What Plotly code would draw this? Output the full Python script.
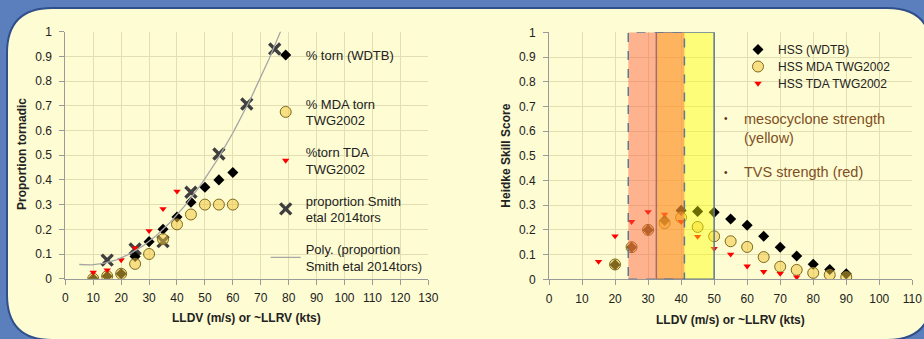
import numpy as np
import plotly.graph_objects as go

# ---------------- data ----------------
# Left chart: proportion tornadic vs LLDV
left_x = [10, 15, 20, 25, 30, 35, 40, 45, 50, 55, 60]
torn_wdtb = [0.0, 0.01, 0.02, 0.09, 0.15, 0.20, 0.25, 0.31, 0.37, 0.40, 0.43]
mda_torn = [0.0, 0.01, 0.02, 0.06, 0.10, 0.16, 0.22, 0.26, 0.30, 0.30, 0.30]
tda_x = [10, 15, 20, 25, 30, 35, 40]
tda_torn = [0.026, 0.035, 0.076, 0.124, 0.194, 0.283, 0.354]
smith_x = [15, 25, 35, 45, 55, 65, 75]
smith_prop = [0.075, 0.12, 0.15, 0.35, 0.505, 0.707, 0.93]

# Right chart: Heidke skill score vs LLDV
hss_x = [20, 25, 30, 35, 40, 45, 50, 55, 60, 65, 70, 75, 80, 85, 90]
hss_wdtb = [0.059, 0.13, 0.20, 0.238, 0.279, 0.275, 0.271, 0.244, 0.219, 0.174,
            0.13, 0.094, 0.061, 0.04, 0.022]
hss_mda = [0.06, 0.13, 0.20, 0.227, 0.25, 0.212, 0.174, 0.154, 0.131, 0.09,
           0.051, 0.038, 0.026, 0.018, 0.009]
hss_tda_x = [15, 20, 25, 30, 35, 40, 45, 50, 55, 60, 65, 70, 75]
hss_tda = [0.072, 0.175, 0.233, 0.273, 0.263, 0.233, 0.173, 0.124, 0.101,
           0.053, 0.031, 0.023, 0.009]

# strength ranges (LLDV)
tvs_range = [24, 41]      # red
meso_range = [32.5, 50]   # yellow

left_xticks = list(range(0, 131, 10))
right_xticks = list(range(0, 111, 10))
yticks = [0, 0.1, 0.2, 0.3, 0.4, 0.5, 0.6, 0.7, 0.8, 0.9, 1]
ytick_text = ["0", "0.1", "0.2", "0.3", "0.4", "0.5", "0.6", "0.7", "0.8", "0.9", "1"]

# polynomial (order 2) trendline of the Smith et al. data
coef = np.polyfit(smith_x, smith_prop, 2)
poly_x = np.linspace(5, 80, 151)
poly_y = np.polyval(coef, poly_x)

# ---------------- style ----------------
W, H = 924, 339
FONT = "Liberation Sans"
BG_BLUE = "#5b7fbd"
PANEL = "#fefcd2"
GRID = "#e2deb2"
AXIS = "#9a9a9a"
TXT = "#222222"
CIRCLE_FILL = "rgba(240,195,60,0.52)"
CIRCLE_LINE = "#7f6a1e"


def px(x):
    return x / W


def py(y):
    return 1 - y / H


fig = go.Figure()

# left traces
fig.add_trace(go.Scatter(
    x=smith_x, y=smith_prop, mode="markers", name="proportion Smith<br>etal 2014tors",
    marker=dict(symbol="x-thin", size=11, line=dict(width=3.4, color="#3f3f3f"), color="#3f3f3f"),
    xaxis="x", yaxis="y", legend="legend4"))
fig.add_trace(go.Scatter(
    x=left_x, y=torn_wdtb, mode="markers", name="% torn (WDTB)",
    marker=dict(symbol="diamond", size=8.5, color="#000000"),
    xaxis="x", yaxis="y", legend="legend"))
fig.add_trace(go.Scatter(
    x=left_x, y=mda_torn, mode="markers", name="% MDA torn<br>TWG2002",
    marker=dict(symbol="circle", size=11, color=CIRCLE_FILL, line=dict(width=1, color=CIRCLE_LINE)),
    xaxis="x", yaxis="y", legend="legend2"))
fig.add_trace(go.Scatter(
    x=tda_x, y=tda_torn, mode="markers", name="%torn TDA<br>TWG2002",
    marker=dict(symbol="triangle-down", size=6.5, color="#ff0000"),
    xaxis="x", yaxis="y", legend="legend3"))
fig.add_trace(go.Scatter(
    x=poly_x, y=poly_y, mode="lines", name="Poly. (proportion<br>Smith etal 2014tors)",
    line=dict(color="#a6a6a6", width=1.3),
    xaxis="x", yaxis="y", legend="legend5"))

# right traces
fig.add_trace(go.Scatter(
    x=hss_x, y=hss_wdtb, mode="markers", name="HSS (WDTB)",
    marker=dict(symbol="diamond", size=8.5, color="#000000"),
    xaxis="x2", yaxis="y2", legend="legend6"))
fig.add_trace(go.Scatter(
    x=hss_x, y=hss_mda, mode="markers", name="HSS MDA TWG2002",
    marker=dict(symbol="circle", size=11, color=CIRCLE_FILL, line=dict(width=1, color=CIRCLE_LINE)),
    xaxis="x2", yaxis="y2", legend="legend7"))
fig.add_trace(go.Scatter(
    x=hss_tda_x, y=hss_tda, mode="markers", name="HSS TDA TWG2002",
    marker=dict(symbol="triangle-down", size=6.5, color="#ff0000"),
    xaxis="x2", yaxis="y2", legend="legend8"))

# ---------------- axes ----------------
axis_common = dict(
    showgrid=True, gridcolor=GRID, gridwidth=1, showline=True, linecolor=AXIS, linewidth=1,
    ticks="outside", ticklen=5, tickcolor=AXIS, tickwidth=1, zeroline=False, automargin=False,
    tickfont=dict(family=FONT, size=12, color=TXT), fixedrange=True,
)

L_dom_x = [px(65.3), px(428.3)]
L_dom_y = [py(278.7), py(31.7)]
R_dom_x = [px(549), px(912.3)]
R_dom_y = [py(279.3), py(32.3)]

fig.update_layout(
    xaxis=dict(domain=L_dom_x, range=[0, 130], tickvals=left_xticks, anchor="y",
               ticklabelstandoff=3, **axis_common),
    yaxis=dict(domain=L_dom_y, range=[0, 1], tickvals=yticks, ticktext=ytick_text, anchor="x",
               ticklabelstandoff=5, **axis_common),
    xaxis2=dict(domain=R_dom_x, range=[0, 110], tickvals=right_xticks, anchor="y2",
                ticklabelstandoff=3, **axis_common),
    yaxis2=dict(domain=R_dom_y, range=[0, 1], tickvals=yticks, ticktext=ytick_text, anchor="x2",
                ticklabelstandoff=5, **axis_common),
)

# ---------------- shapes ----------------
l, t, r, b, rad = 7, 8, 932, 340, 45
panel_path = (
    f"M {px(l)},{py(t + rad)} L {px(l)},{py(b - rad)} "
    f"Q {px(l)},{py(b)} {px(l + rad)},{py(b)} L {px(r - rad)},{py(b)} "
    f"Q {px(r)},{py(b)} {px(r)},{py(b - rad)} L {px(r)},{py(t + rad)} "
    f"Q {px(r)},{py(t)} {px(r - rad)},{py(t)} L {px(l + rad)},{py(t)} "
    f"Q {px(l)},{py(t)} {px(l)},{py(t + rad)} Z"
)
shapes = [
    dict(type="path", xref="paper", yref="paper", path=panel_path, fillcolor=PANEL,
         line=dict(color="#2f4f8c", width=2), layer="below"),
    dict(type="rect", xref="x2", yref="y2", x0=meso_range[0], x1=meso_range[1], y0=0, y1=1,
         fillcolor="rgba(255,255,0,0.42)", line=dict(color="#5b7896", width=1.5), layer="above"),
    dict(type="rect", xref="x2", yref="y2", x0=tvs_range[0], x1=tvs_range[1], y0=0, y1=1,
         fillcolor="rgba(255,90,60,0.45)", line=dict(color="#5b7896", width=1.5, dash="dash"),
         layer="above"),
]

# ---------------- annotations ----------------
title_font = dict(family=FONT, size=12, color=TXT)
ann = [
    dict(text="<b>LLDV (m/s) or ~LLRV (kts)</b>", x=px(246.8), y=py(318), xref="paper", yref="paper",
         showarrow=False, font=title_font, xanchor="center", yanchor="middle"),
    dict(text="<b>Proportion tornadic</b>", x=px(22), y=py(154), xref="paper", yref="paper",
         showarrow=False, font=title_font, textangle=-90, xanchor="center", yanchor="middle"),
    dict(text="<b>LLDV (m/s) or ~LLRV (kts)</b>", x=px(730.5), y=py(320), xref="paper", yref="paper",
         showarrow=False, font=title_font, xanchor="center", yanchor="middle"),
    dict(text="<b>Heidke Skill Score</b>", x=px(505.7), y=py(156), xref="paper", yref="paper",
         showarrow=False, font=title_font, textangle=-90, xanchor="center", yanchor="middle"),
]
brown = "#7f4f1f"
note_font = dict(family=FONT, size=14.5, color=brown)
ann += [
    dict(text="mesocyclone strength<br>(yellow)", x=px(741.5), y=py(128), xref="paper", yref="paper",
         showarrow=False, font=note_font, xanchor="left", yanchor="middle", align="left"),
    dict(text="TVS strength (red)", x=px(741.5), y=py(172), xref="paper", yref="paper",
         showarrow=False, font=note_font, xanchor="left", yanchor="middle", align="left"),
    dict(text="•", x=px(725.7), y=py(119), xref="paper", yref="paper",
         showarrow=False, font=dict(family=FONT, size=10, color="#5a3010"), xanchor="center", yanchor="middle"),
    dict(text="•", x=px(725.7), y=py(172), xref="paper", yref="paper",
         showarrow=False, font=dict(family=FONT, size=10, color="#5a3010"), xanchor="center", yanchor="middle"),
]

leg_font_l = dict(family=FONT, size=13, color=TXT)
leg_font_r = dict(family=FONT, size=12, color=TXT)


def leg(x_px, top_px, font):
    return dict(x=px(x_px), y=py(top_px), xanchor="left", yanchor="top",
                bgcolor="rgba(0,0,0,0)", font=font)


fig.update_layout(
    width=W, height=H,
    margin=dict(l=0, r=0, t=0, b=0, autoexpand=False),
    paper_bgcolor=BG_BLUE,
    plot_bgcolor="rgba(0,0,0,0)",
    shapes=shapes,
    annotations=ann,
    showlegend=True,
    legend=leg(265.7, 40, leg_font_l),
    legend2=leg(265.7, 88.5, leg_font_l),
    legend3=leg(265.7, 137, leg_font_l),
    legend4=leg(265.7, 185.5, leg_font_l),
    legend5=leg(265.7, 234, leg_font_l),
    legend6=leg(738, 35, leg_font_r),
    legend7=leg(738, 52, leg_font_r),
    legend8=leg(738, 69, leg_font_r),
)

fig.write_html(
    "out.html",
    config={"displayModeBar": False},
    post_script="document.body.style.margin='0';document.body.style.padding='0';"
                "document.body.style.overflow='hidden';",
)
